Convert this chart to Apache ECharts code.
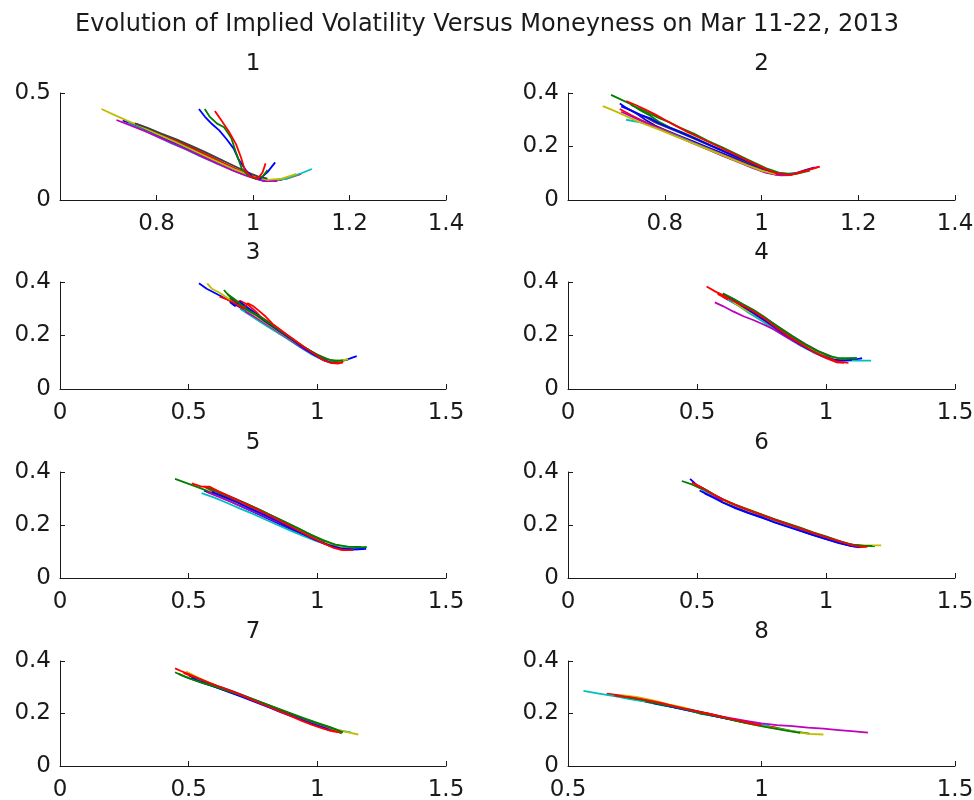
<!DOCTYPE html>
<html>
<head>
<meta charset="utf-8">
<title>Implied Volatility vs Moneyness</title>
<script src="https://cdn.jsdelivr.net/npm/echarts@6/dist/echarts.min.js"></script>
<style>
  html, body { margin: 0; padding: 0; background: #ffffff; }
  #chart { width: 974px; height: 800px; }
</style>
</head>
<body>
<div id="chart"></div>
<script>
// ---- text ----
const figureTitle = 'Evolution of Implied Volatility Versus Moneyness on Mar 11-22, 2013';
const panelTitles = ['1', '2', '3', '4', '5', '6', '7', '8'];
const tradingDays = ['Mar 11', 'Mar 12', 'Mar 13', 'Mar 14', 'Mar 15',
                     'Mar 18', 'Mar 19', 'Mar 20', 'Mar 21', 'Mar 22'];

// ---- axis ranges and tick labels per panel ----
const xLimits = [[0.6, 1.4], [0.6, 1.4], [0, 1.5], [0, 1.5], [0, 1.5], [0, 1.5], [0, 1.5], [0.5, 1.5]];
const xSteps = [0.2, 0.2, 0.5, 0.5, 0.5, 0.5, 0.5, 0.5];
const xTickLabels = [
  ['0.8', '1', '1.2', '1.4'], ['0.8', '1', '1.2', '1.4'],
  ['0', '0.5', '1', '1.5'], ['0', '0.5', '1', '1.5'],
  ['0', '0.5', '1', '1.5'], ['0', '0.5', '1', '1.5'],
  ['0', '0.5', '1', '1.5'], ['0.5', '1', '1.5']
];
const yLimits = [[0, 0.5], [0, 0.4], [0, 0.4], [0, 0.4], [0, 0.4], [0, 0.4], [0, 0.4], [0, 0.4]];
const ySteps = [0.5, 0.2, 0.2, 0.2, 0.2, 0.2, 0.2, 0.2];

// ---- one curve per trading day: [moneyness, implied volatility] ----
const panel1 = [
  [[0.73,0.372],[0.76,0.345],[0.79,0.315],[0.82,0.283],[0.85,0.255],[0.88,0.222],[0.91,0.19],[0.94,0.16],[0.97,0.13],[1.0,0.105],[1.02,0.09],[1.04,0.088],[1.06,0.095]],
  [[0.75,0.36],[0.78,0.33],[0.81,0.302],[0.84,0.272],[0.87,0.245],[0.9,0.21],[0.93,0.18],[0.96,0.148],[0.99,0.118],[1.01,0.1],[1.03,0.092],[1.05,0.094],[1.08,0.108]],
  [[0.76,0.355],[0.79,0.327],[0.82,0.298],[0.85,0.27],[0.88,0.238],[0.91,0.205],[0.94,0.172],[0.97,0.14],[1.0,0.112],[1.02,0.095],[1.04,0.088],[1.07,0.1],[1.1,0.122]],
  [[0.74,0.36],[0.77,0.33],[0.8,0.298],[0.83,0.266],[0.86,0.237],[0.89,0.205],[0.92,0.175],[0.95,0.147],[0.98,0.12],[1.01,0.1],[1.04,0.09],[1.07,0.1],[1.1,0.125],[1.122,0.145]],
  [[0.717,0.374],[0.75,0.345],[0.78,0.318],[0.81,0.288],[0.84,0.258],[0.87,0.228],[0.9,0.197],[0.93,0.166],[0.96,0.136],[0.99,0.11],[1.01,0.096],[1.03,0.088],[1.05,0.09]],
  [[0.686,0.425],[0.71,0.4],[0.74,0.37],[0.77,0.342],[0.8,0.31],[0.84,0.27],[0.88,0.228],[0.92,0.186],[0.96,0.145],[1.0,0.11],[1.03,0.094],[1.06,0.1],[1.09,0.122]],
  [[0.755,0.358],[0.78,0.338],[0.81,0.31],[0.84,0.285],[0.87,0.255],[0.9,0.225],[0.93,0.192],[0.96,0.16],[0.99,0.128],[1.01,0.11],[1.03,0.1]],
  [[0.888,0.425],[0.9,0.39],[0.915,0.355],[0.93,0.325],[0.945,0.285],[0.96,0.24],[0.97,0.19],[0.985,0.14],[1.0,0.105],[1.015,0.1],[1.03,0.13],[1.046,0.176]],
  [[0.9,0.425],[0.91,0.39],[0.925,0.358],[0.94,0.34],[0.955,0.29],[0.965,0.22],[0.977,0.145],[0.99,0.115],[1.005,0.1],[1.02,0.11],[1.03,0.14]],
  [[0.921,0.416],[0.935,0.37],[0.95,0.32],[0.965,0.26],[0.975,0.2],[0.983,0.14],[0.995,0.11],[1.01,0.1],[1.02,0.13],[1.026,0.171]]
];
const panel2 = [
  [[0.707,0.361],[0.72,0.345],[0.74,0.325],[0.76,0.3],[0.78,0.278],[0.8,0.262],[0.83,0.24],[0.86,0.218],[0.89,0.196],[0.92,0.174],[0.95,0.152],[0.98,0.13],[1.01,0.108],[1.04,0.095],[1.07,0.1],[1.09,0.112],[1.11,0.122]],
  [[0.689,0.393],[0.71,0.375],[0.73,0.358],[0.75,0.335],[0.77,0.315],[0.79,0.29],[0.81,0.272],[0.84,0.25],[0.87,0.226],[0.9,0.2],[0.93,0.176],[0.96,0.15],[0.99,0.126],[1.02,0.104],[1.05,0.095],[1.08,0.102]],
  [[0.707,0.34],[0.73,0.318],[0.75,0.3],[0.77,0.283],[0.8,0.26],[0.83,0.237],[0.86,0.214],[0.89,0.192],[0.92,0.17],[0.95,0.147],[0.98,0.125],[1.01,0.105],[1.03,0.094],[1.06,0.094],[1.09,0.11],[1.12,0.125]],
  [[0.72,0.30],[0.75,0.29],[0.78,0.272],[0.8,0.258],[0.83,0.236],[0.86,0.213],[0.89,0.19],[0.92,0.168],[0.95,0.145],[0.98,0.123],[1.01,0.103],[1.04,0.093],[1.07,0.098]],
  [[0.71,0.33],[0.74,0.305],[0.77,0.28],[0.8,0.257],[0.83,0.234],[0.86,0.211],[0.89,0.188],[0.92,0.165],[0.95,0.143],[0.98,0.121],[1.01,0.101],[1.04,0.092],[1.06,0.093]],
  [[0.672,0.351],[0.69,0.338],[0.71,0.322],[0.73,0.305],[0.76,0.283],[0.79,0.262],[0.82,0.24],[0.85,0.218],[0.88,0.196],[0.91,0.174],[0.94,0.152],[0.97,0.13],[1.0,0.11],[1.03,0.097]],
  [[0.72,0.345],[0.74,0.325],[0.76,0.31],[0.78,0.29],[0.81,0.268],[0.84,0.245],[0.87,0.222],[0.9,0.198],[0.93,0.175],[0.96,0.152],[0.99,0.128],[1.02,0.106]],
  [[0.71,0.35],[0.73,0.335],[0.75,0.318],[0.77,0.305],[0.79,0.285],[0.82,0.263],[0.85,0.24],[0.88,0.216],[0.91,0.192],[0.94,0.168],[0.97,0.145],[1.0,0.121],[1.03,0.101],[1.06,0.097]],
  [[0.73,0.355],[0.75,0.34],[0.77,0.322],[0.79,0.305],[0.81,0.29],[0.83,0.272],[0.86,0.248],[0.89,0.22],[0.92,0.196],[0.95,0.17],[0.98,0.144],[1.01,0.118],[1.04,0.1],[1.07,0.097],[1.1,0.11]],
  [[0.72,0.37],[0.74,0.355],[0.76,0.338],[0.78,0.32],[0.8,0.3],[0.82,0.28],[0.85,0.252],[0.88,0.226],[0.91,0.2],[0.94,0.175],[0.97,0.148],[1.0,0.123],[1.03,0.1],[1.06,0.093],[1.09,0.108],[1.12,0.125]]
];
const panel3 = [
  [[0.54,0.395],[0.57,0.375],[0.6,0.36],[0.63,0.345],[0.66,0.33],[0.7,0.305],[0.75,0.273],[0.8,0.243],[0.85,0.212],[0.9,0.18],[0.95,0.15],[1.0,0.122],[1.04,0.105],[1.08,0.1],[1.12,0.112],[1.153,0.123]],
  [[0.637,0.37],[0.66,0.345],[0.69,0.325],[0.72,0.31],[0.76,0.28],[0.8,0.252],[0.85,0.22],[0.9,0.187],[0.95,0.155],[1.0,0.128],[1.05,0.108],[1.09,0.105],[1.12,0.11]],
  [[0.62,0.345],[0.65,0.335],[0.68,0.32],[0.7,0.33],[0.73,0.315],[0.76,0.29],[0.78,0.27],[0.82,0.245],[0.87,0.21],[0.92,0.175],[0.97,0.14],[1.01,0.115],[1.04,0.103],[1.07,0.097],[1.1,0.1]],
  [[0.7,0.3],[0.74,0.275],[0.78,0.25],[0.83,0.22],[0.88,0.19],[0.93,0.158],[0.98,0.128],[1.02,0.11],[1.06,0.102]],
  [[0.72,0.29],[0.76,0.268],[0.8,0.244],[0.85,0.212],[0.9,0.18],[0.95,0.148],[1.0,0.122],[1.04,0.106]],
  [[0.572,0.395],[0.59,0.375],[0.62,0.36],[0.66,0.335],[0.7,0.31],[0.75,0.28],[0.8,0.248],[0.85,0.215],[0.9,0.183],[0.95,0.152],[1.0,0.125],[1.05,0.107],[1.09,0.106],[1.12,0.112]],
  [[0.66,0.34],[0.69,0.32],[0.72,0.3],[0.76,0.278],[0.8,0.25],[0.85,0.218],[0.9,0.186],[0.95,0.155],[1.0,0.128],[1.04,0.11]],
  [[0.66,0.325],[0.68,0.31],[0.7,0.325],[0.72,0.31],[0.75,0.29],[0.79,0.26],[0.84,0.225],[0.89,0.192],[0.94,0.158],[0.99,0.126],[1.03,0.105],[1.06,0.098]],
  [[0.65,0.355],[0.68,0.335],[0.71,0.31],[0.74,0.29],[0.77,0.275],[0.8,0.255],[0.84,0.228],[0.89,0.195],[0.94,0.163],[0.99,0.132],[1.03,0.113],[1.07,0.105],[1.1,0.107]],
  [[0.66,0.33],[0.69,0.315],[0.71,0.3],[0.73,0.32],[0.75,0.31],[0.77,0.295],[0.8,0.27],[0.83,0.24],[0.88,0.205],[0.93,0.17],[0.98,0.136],[1.02,0.11],[1.05,0.098],[1.08,0.095],[1.1,0.1]]
];
const panel4 = [
  [[0.6,0.345],[0.65,0.318],[0.7,0.29],[0.75,0.262],[0.8,0.225],[0.85,0.195],[0.9,0.165],[0.95,0.14],[1.0,0.12],[1.04,0.108],[1.08,0.11],[1.12,0.112],[1.14,0.115]],
  [[0.58,0.36],[0.62,0.34],[0.66,0.318],[0.7,0.3],[0.75,0.272],[0.8,0.238],[0.85,0.205],[0.9,0.174],[0.95,0.145],[1.0,0.125],[1.04,0.112],[1.07,0.112],[1.1,0.114]],
  [[0.58,0.355],[0.62,0.335],[0.66,0.315],[0.7,0.295],[0.75,0.265],[0.8,0.23],[0.85,0.2],[0.9,0.168],[0.95,0.138],[1.0,0.115],[1.04,0.1],[1.07,0.098]],
  [[0.62,0.335],[0.66,0.312],[0.7,0.285],[0.75,0.255],[0.8,0.222],[0.85,0.192],[0.9,0.163],[0.95,0.138],[1.0,0.118],[1.05,0.108],[1.1,0.106],[1.175,0.106]],
  [[0.569,0.324],[0.6,0.31],[0.64,0.29],[0.68,0.272],[0.718,0.258],[0.76,0.24],[0.8,0.222],[0.85,0.193],[0.9,0.165],[0.95,0.14],[1.0,0.118],[1.04,0.104]],
  [[0.64,0.325],[0.68,0.3],[0.72,0.28],[0.77,0.25],[0.82,0.218],[0.87,0.188],[0.92,0.16],[0.97,0.135],[1.02,0.117],[1.06,0.11]],
  [[0.6,0.355],[0.64,0.335],[0.68,0.315],[0.72,0.292],[0.77,0.262],[0.82,0.23],[0.87,0.198],[0.92,0.168],[0.97,0.142],[1.02,0.122]],
  [[0.62,0.342],[0.66,0.32],[0.7,0.295],[0.74,0.27],[0.78,0.245],[0.83,0.21],[0.88,0.18],[0.93,0.15],[0.98,0.126],[1.03,0.11],[1.07,0.106],[1.1,0.108]],
  [[0.6,0.358],[0.64,0.338],[0.68,0.316],[0.72,0.295],[0.76,0.27],[0.81,0.235],[0.86,0.202],[0.91,0.172],[0.96,0.145],[1.01,0.124],[1.05,0.115],[1.09,0.115],[1.12,0.116]],
  [[0.537,0.383],[0.57,0.365],[0.6,0.35],[0.64,0.33],[0.68,0.31],[0.72,0.29],[0.76,0.265],[0.8,0.235],[0.85,0.2],[0.9,0.17],[0.95,0.14],[1.0,0.118],[1.04,0.103],[1.087,0.098]]
];
const panel5 = [
  [[0.56,0.33],[0.6,0.315],[0.65,0.295],[0.7,0.272],[0.75,0.25],[0.8,0.228],[0.85,0.205],[0.9,0.182],[0.95,0.16],[1.0,0.14],[1.05,0.122],[1.1,0.11],[1.15,0.108],[1.19,0.11]],
  [[0.447,0.374],[0.5,0.355],[0.55,0.337],[0.6,0.318],[0.65,0.3],[0.7,0.28],[0.75,0.26],[0.8,0.235],[0.85,0.212],[0.9,0.19],[0.95,0.168],[1.0,0.147],[1.05,0.13],[1.1,0.118],[1.15,0.115],[1.192,0.117]],
  [[0.56,0.345],[0.6,0.325],[0.65,0.305],[0.7,0.283],[0.75,0.26],[0.8,0.237],[0.85,0.212],[0.9,0.188],[0.95,0.163],[1.0,0.14],[1.05,0.12],[1.09,0.107],[1.12,0.105]],
  [[0.55,0.32],[0.6,0.303],[0.65,0.283],[0.7,0.262],[0.75,0.242],[0.8,0.22],[0.85,0.198],[0.9,0.177],[0.95,0.157],[1.0,0.138],[1.05,0.124],[1.1,0.116],[1.15,0.114]],
  [[0.57,0.325],[0.62,0.305],[0.67,0.285],[0.72,0.264],[0.77,0.244],[0.82,0.222],[0.87,0.2],[0.92,0.178],[0.97,0.157],[1.02,0.138],[1.07,0.124]],
  [[0.6,0.322],[0.65,0.3],[0.7,0.28],[0.75,0.258],[0.8,0.236],[0.85,0.213],[0.9,0.19],[0.95,0.168],[1.0,0.146],[1.05,0.128],[1.1,0.118]],
  [[0.58,0.34],[0.63,0.32],[0.68,0.3],[0.73,0.278],[0.78,0.255],[0.83,0.232],[0.88,0.208],[0.93,0.185],[0.98,0.16],[1.03,0.138]],
  [[0.59,0.325],[0.64,0.305],[0.69,0.285],[0.74,0.262],[0.79,0.24],[0.84,0.217],[0.89,0.192],[0.94,0.168],[0.99,0.145],[1.04,0.126],[1.09,0.112],[1.14,0.108],[1.18,0.109]],
  [[0.57,0.342],[0.62,0.322],[0.67,0.302],[0.72,0.282],[0.77,0.26],[0.82,0.237],[0.87,0.214],[0.92,0.19],[0.97,0.166],[1.02,0.144],[1.07,0.126],[1.12,0.118],[1.17,0.117]],
  [[0.512,0.357],[0.55,0.345],[0.58,0.345],[0.62,0.325],[0.67,0.303],[0.72,0.28],[0.77,0.257],[0.82,0.233],[0.87,0.208],[0.92,0.182],[0.97,0.157],[1.02,0.133],[1.06,0.115],[1.1,0.105],[1.14,0.105]]
];
const panel6 = [
  [[0.473,0.374],[0.5,0.35],[0.55,0.315],[0.6,0.285],[0.65,0.263],[0.7,0.245],[0.75,0.228],[0.8,0.212],[0.85,0.196],[0.9,0.18],[0.95,0.163],[1.0,0.148],[1.05,0.133],[1.1,0.12],[1.14,0.117]],
  [[0.441,0.366],[0.48,0.353],[0.52,0.335],[0.56,0.312],[0.6,0.293],[0.65,0.272],[0.7,0.255],[0.75,0.238],[0.8,0.22],[0.85,0.204],[0.9,0.188],[0.95,0.17],[1.0,0.155],[1.05,0.138],[1.1,0.125],[1.15,0.12],[1.19,0.12]],
  [[0.49,0.355],[0.52,0.34],[0.56,0.315],[0.6,0.295],[0.65,0.273],[0.7,0.255],[0.75,0.237],[0.8,0.22],[0.85,0.203],[0.9,0.186],[0.95,0.17],[1.0,0.153],[1.05,0.137],[1.1,0.122],[1.15,0.118]],
  [[0.52,0.33],[0.56,0.31],[0.6,0.29],[0.65,0.268],[0.7,0.25],[0.75,0.232],[0.8,0.215],[0.85,0.198],[0.9,0.18],[0.95,0.163],[1.0,0.148],[1.05,0.134],[1.1,0.124]],
  [[0.53,0.318],[0.57,0.303],[0.62,0.283],[0.67,0.264],[0.72,0.246],[0.77,0.23],[0.82,0.212],[0.87,0.196],[0.92,0.178],[0.97,0.162],[1.02,0.146]],
  [[0.6,0.292],[0.65,0.272],[0.7,0.253],[0.75,0.236],[0.8,0.219],[0.85,0.202],[0.9,0.186],[0.95,0.169],[1.0,0.153],[1.05,0.138],[1.1,0.126],[1.15,0.123],[1.214,0.123]],
  [[0.5,0.35],[0.54,0.33],[0.58,0.306],[0.63,0.283],[0.68,0.264],[0.73,0.246],[0.78,0.228],[0.83,0.21],[0.88,0.193],[0.93,0.176],[0.98,0.16],[1.03,0.144],[1.08,0.13],[1.13,0.122]],
  [[0.51,0.33],[0.55,0.31],[0.6,0.285],[0.65,0.265],[0.7,0.246],[0.75,0.23],[0.8,0.21],[0.85,0.194],[0.9,0.178],[0.95,0.162],[1.0,0.147],[1.05,0.132],[1.1,0.12],[1.13,0.116]],
  [[0.52,0.34],[0.56,0.318],[0.6,0.297],[0.65,0.276],[0.7,0.258],[0.75,0.24],[0.8,0.222],[0.85,0.206],[0.9,0.19],[0.95,0.172],[1.0,0.157],[1.05,0.14],[1.1,0.126],[1.15,0.121],[1.18,0.121]],
  [[0.48,0.36],[0.51,0.345],[0.55,0.322],[0.6,0.297],[0.65,0.275],[0.7,0.256],[0.75,0.238],[0.8,0.22],[0.85,0.203],[0.9,0.187],[0.95,0.17],[1.0,0.154],[1.05,0.139],[1.1,0.124],[1.13,0.118],[1.16,0.118]]
];
const panel7 = [
  [[0.5,0.345],[0.55,0.323],[0.6,0.305],[0.65,0.288],[0.7,0.27],[0.75,0.25],[0.8,0.232],[0.85,0.212],[0.9,0.195],[0.95,0.175],[1.0,0.155],[1.03,0.142],[1.05,0.135]],
  [[0.447,0.357],[0.48,0.342],[0.52,0.328],[0.56,0.315],[0.6,0.302],[0.65,0.285],[0.7,0.268],[0.75,0.25],[0.8,0.232],[0.85,0.213],[0.9,0.195],[0.95,0.176],[1.0,0.158],[1.05,0.142],[1.095,0.124]],
  [[0.48,0.355],[0.52,0.338],[0.56,0.322],[0.6,0.307],[0.65,0.29],[0.7,0.271],[0.75,0.252],[0.8,0.232],[0.85,0.212],[0.9,0.192],[0.95,0.172],[1.0,0.154],[1.05,0.138],[1.08,0.13]],
  [[0.53,0.33],[0.58,0.311],[0.63,0.293],[0.68,0.275],[0.73,0.257],[0.78,0.238],[0.83,0.22],[0.88,0.202],[0.93,0.183],[0.98,0.166],[1.03,0.15],[1.08,0.137],[1.13,0.128]],
  [[0.55,0.325],[0.6,0.305],[0.65,0.288],[0.7,0.27],[0.75,0.251],[0.8,0.233],[0.85,0.214],[0.9,0.196],[0.95,0.178],[1.0,0.16],[1.04,0.145]],
  [[0.49,0.36],[0.53,0.34],[0.58,0.318],[0.63,0.298],[0.68,0.28],[0.73,0.262],[0.78,0.242],[0.83,0.224],[0.88,0.205],[0.93,0.186],[0.98,0.168],[1.03,0.152],[1.08,0.138],[1.12,0.128],[1.159,0.12]],
  [[0.52,0.34],[0.57,0.32],[0.62,0.302],[0.67,0.285],[0.72,0.266],[0.77,0.247],[0.82,0.228],[0.87,0.208],[0.92,0.19],[0.97,0.172],[1.02,0.156],[1.07,0.14]],
  [[0.51,0.335],[0.56,0.316],[0.61,0.298],[0.66,0.28],[0.71,0.262],[0.76,0.243],[0.81,0.224],[0.86,0.204],[0.91,0.186],[0.96,0.167],[1.01,0.15],[1.05,0.137]],
  [[0.46,0.352],[0.5,0.335],[0.55,0.318],[0.6,0.303],[0.65,0.287],[0.7,0.271],[0.75,0.254],[0.8,0.236],[0.85,0.218],[0.9,0.2],[0.95,0.182],[1.0,0.164],[1.05,0.148],[1.1,0.128]],
  [[0.447,0.372],[0.47,0.362],[0.5,0.35],[0.54,0.333],[0.58,0.317],[0.62,0.302],[0.66,0.287],[0.7,0.272],[0.74,0.255],[0.78,0.238],[0.82,0.222],[0.86,0.205],[0.9,0.189],[0.94,0.172],[0.98,0.157],[1.02,0.143],[1.06,0.132],[1.09,0.128]]
];
const panel8 = [
  [[0.62,0.268],[0.68,0.252],[0.74,0.235],[0.8,0.215],[0.86,0.196],[0.92,0.178],[0.98,0.16],[1.02,0.15]],
  [[0.6,0.272],[0.64,0.265],[0.68,0.255],[0.72,0.245],[0.76,0.228],[0.8,0.218],[0.84,0.2],[0.88,0.19],[0.92,0.178],[0.96,0.165],[1.0,0.155],[1.04,0.145],[1.08,0.133],[1.124,0.123]],
  [[0.6,0.276],[0.64,0.268],[0.68,0.258],[0.72,0.245],[0.76,0.232],[0.8,0.218],[0.84,0.206],[0.88,0.195],[0.92,0.18],[0.96,0.168],[1.0,0.155],[1.04,0.145]],
  [[0.54,0.286],[0.58,0.276],[0.62,0.266],[0.66,0.255],[0.7,0.245],[0.74,0.232],[0.78,0.222],[0.82,0.21],[0.86,0.198],[0.9,0.186],[0.94,0.174],[0.98,0.162],[1.02,0.152]],
  [[0.84,0.205],[0.88,0.193],[0.92,0.182],[0.96,0.172],[1.0,0.162],[1.04,0.156],[1.08,0.152],[1.12,0.146],[1.16,0.142],[1.2,0.137],[1.24,0.132],[1.275,0.127]],
  [[0.64,0.27],[0.68,0.262],[0.72,0.25],[0.76,0.235],[0.8,0.222],[0.84,0.205],[0.88,0.192],[0.92,0.178],[0.96,0.163],[1.0,0.152],[1.04,0.142],[1.08,0.132],[1.12,0.122],[1.16,0.12]],
  [[0.7,0.245],[0.74,0.235],[0.78,0.222],[0.82,0.214],[0.86,0.2],[0.9,0.186],[0.94,0.172],[0.98,0.16]],
  [[0.72,0.24],[0.76,0.228],[0.8,0.216],[0.84,0.204],[0.88,0.19],[0.92,0.178],[0.96,0.165]],
  [[0.62,0.27],[0.66,0.26],[0.7,0.25],[0.74,0.235],[0.78,0.224],[0.82,0.21],[0.86,0.198],[0.9,0.184],[0.94,0.17],[0.98,0.158],[1.02,0.146],[1.06,0.136],[1.1,0.126]],
  [[0.62,0.268],[0.66,0.262],[0.7,0.252],[0.74,0.24],[0.78,0.226],[0.82,0.212],[0.86,0.2],[0.9,0.186],[0.94,0.174],[0.98,0.16],[1.0,0.155]]
];
const panels = [panel1, panel2, panel3, panel4, panel5, panel6, panel7, panel8];

// classic plot colour order: b g r c m y k, repeating
const dayColors = ['#0000ff', '#008000', '#ff0000', '#00bfbf', '#bf00bf', '#bfbf00', '#404040',
                   '#0000ff', '#008000', '#ff0000'];

// ---- layout: 2 columns x 4 rows of axes ----
const colLeft = [60, 568];
const colWidth = [386, 387];
const rowTop = [93, 282, 472, 661];
const rowHeight = [107, 107, 106, 105];

const FONT = '"DejaVu Sans", "Liberation Sans", Arial, sans-serif';
const TITLE_SIZE = 24;
const LABEL_SIZE = 23;
const INK = '#1a1a1a';

function fmt(v) { return String(+v.toFixed(3)); }

const grids = [], xAxes = [], yAxes = [], series = [], graphics = [];

graphics.push({
  type: 'text', x: 487, y: 25, silent: true,
  style: { text: figureTitle, fill: INK, font: TITLE_SIZE + 'px ' + FONT,
           textAlign: 'center', textVerticalAlign: 'middle' }
});

panels.forEach((lines, p) => {
  const col = p % 2, row = Math.floor(p / 2);
  const left = colLeft[col], top = rowTop[row];
  grids.push({ left: left, top: top, width: colWidth[col], height: rowHeight[row],
               containLabel: false, outerBoundsMode: 'none' });

  graphics.push({
    type: 'text', x: left + colWidth[col] / 2, y: top - 29, silent: true,
    style: { text: panelTitles[p], fill: INK, font: LABEL_SIZE + 'px ' + FONT,
             textAlign: 'center', textVerticalAlign: 'middle' }
  });

  const shownX = xTickLabels[p];
  xAxes.push({
    gridIndex: p, type: 'value',
    min: xLimits[p][0], max: xLimits[p][1], interval: xSteps[p],
    axisLine: { show: true, onZero: false, lineStyle: { color: INK, width: 1 } },
    axisTick: { show: true, inside: true, length: 5, lineStyle: { color: INK, width: 1 } },
    splitLine: { show: false },
    axisLabel: {
      color: INK, fontFamily: FONT, fontSize: LABEL_SIZE, margin: 13,
      showMinLabel: true, showMaxLabel: true, hideOverlap: false,
      formatter: v => (shownX.indexOf(fmt(v)) >= 0 ? fmt(v) : '')
    }
  });
  yAxes.push({
    gridIndex: p, type: 'value',
    min: yLimits[p][0], max: yLimits[p][1], interval: ySteps[p],
    axisLine: { show: true, onZero: false, lineStyle: { color: INK, width: 1 } },
    axisTick: { show: true, inside: true, length: 5, lineStyle: { color: INK, width: 1 } },
    splitLine: { show: false },
    axisLabel: {
      color: INK, fontFamily: FONT, fontSize: LABEL_SIZE, margin: 9,
      showMinLabel: true, showMaxLabel: true, hideOverlap: false,
      formatter: v => fmt(v)
    }
  });

  lines.forEach((curve, d) => {
    series.push({
      name: tradingDays[d],
      type: 'line',
      xAxisIndex: p, yAxisIndex: p,
      data: curve,
      showSymbol: false,
      symbol: 'none',
      smooth: false,
      clip: true,
      lineStyle: { color: dayColors[d], width: 1.8 },
      itemStyle: { color: dayColors[d] },
      emphasis: { disabled: true },
      animation: false
    });
  });
});

const chart = echarts.init(document.getElementById('chart'), null, { renderer: 'canvas' });
chart.setOption({
  backgroundColor: '#ffffff',
  animation: false,
  grid: grids,
  xAxis: xAxes,
  yAxis: yAxes,
  series: series,
  graphic: graphics
});
</script>
</body>
</html>
